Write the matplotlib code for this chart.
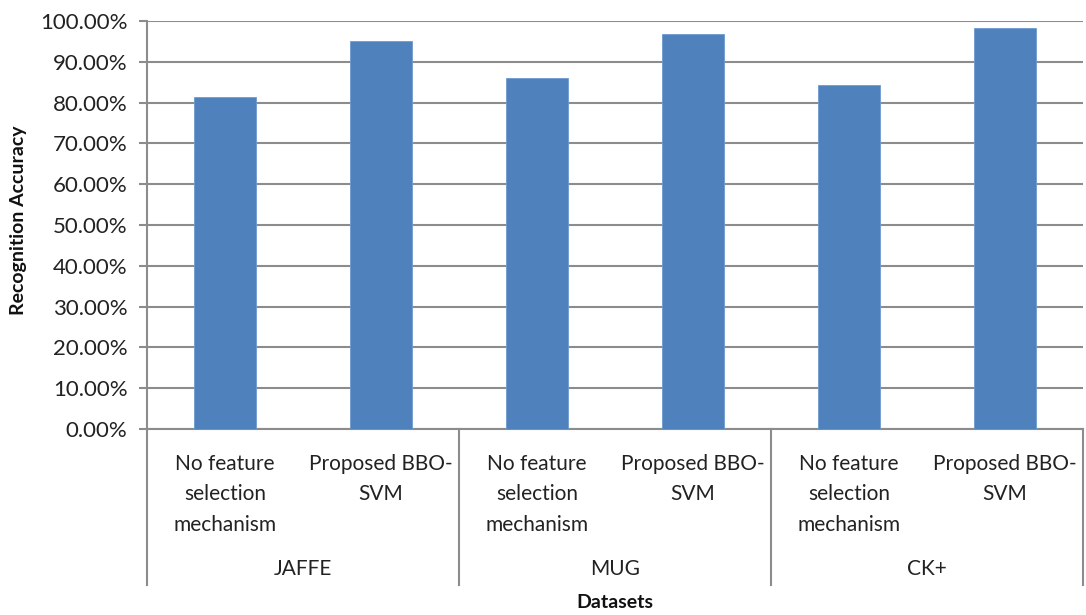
import matplotlib
matplotlib.use("Agg")
import matplotlib.pyplot as plt
from matplotlib.ticker import FuncFormatter
import matplotlib.transforms as mtransforms

groups = ["JAFFE", "MUG", "CK+"]
methods = ["No feature\nselection\nmechanism", "Proposed BBO-\nSVM"]
accuracy = {
    "JAFFE": [0.813, 0.952],
    "MUG": [0.860, 0.967],
    "CK+": [0.844, 0.984],
}
yticks = [i / 10 for i in range(11)]

plt.rcParams['font.family'] = ['Lato', 'DejaVu Sans']

W, H = 1086, 615
fig = plt.figure(figsize=(W / 100, H / 100), dpi=100)
L, R, T, B = 147, 1083, 21, 429
ax = fig.add_axes([L / W, 1 - B / H, (R - L) / W, (B - T) / H])

bar_color = "#4F81BD"
grid_color = "#8C8C8C"
text_color = "#222222"
xs, vals, labels = [], [], []
i = 0
for g in groups:
    for m, v in zip(methods, accuracy[g]):
        xs.append(i)
        vals.append(v)
        labels.append(m)
        i += 1

ax.bar(xs, vals, width=0.4, color=bar_color, edgecolor="#6E9BD0", linewidth=0.6, zorder=3)
ax.set_xlim(-0.5, len(xs) - 0.5)
ax.set_ylim(0, 1.0)
ax.set_yticks(yticks)
ax.yaxis.set_major_formatter(FuncFormatter(lambda v, p: f"{v * 100:.2f}%"))
ax.yaxis.grid(True, color=grid_color, linewidth=1.5, zorder=0)
ax.set_axisbelow(True)
for s in ["top", "right"]:
    ax.spines[s].set_visible(False)
for s in ["left", "bottom"]:
    ax.spines[s].set_color(grid_color)
    ax.spines[s].set_linewidth(1.5)
ax.tick_params(axis="y", length=6, width=1.5, color=grid_color, labelsize=16, labelcolor=text_color, pad=8)
ax.set_xticks(xs)
ax.set_xticklabels(labels, fontsize=15, color=text_color, linespacing=1.65)
ax.tick_params(axis="x", length=0, pad=18)

# group separators and group labels
trans = mtransforms.blended_transform_factory(ax.transData, ax.transAxes)
depth = (585 - B) / (B - T)
for k in range(len(groups) + 1):
    xb = -0.5 + 2 * k
    ax.plot([xb, xb], [0, -depth], transform=trans, color=grid_color, linewidth=1.5, clip_on=False)
for k, g in enumerate(groups):
    ax.text(0.5 + 2 * k, -(569 - B) / (B - T), g, transform=trans, ha="center", va="center",
            fontsize=15, color=text_color)

fig.text(615 / W, 1 - 603 / H, "Datasets", ha="center", va="center", fontsize=14, fontweight="bold", color="#111111")
fig.text(19 / W, 1 - 220 / H, "Recognition Accuracy", ha="center", va="center", rotation=90,
         fontsize=14, fontweight="bold", color="#111111")

fig.savefig("out.png", dpi=100)
